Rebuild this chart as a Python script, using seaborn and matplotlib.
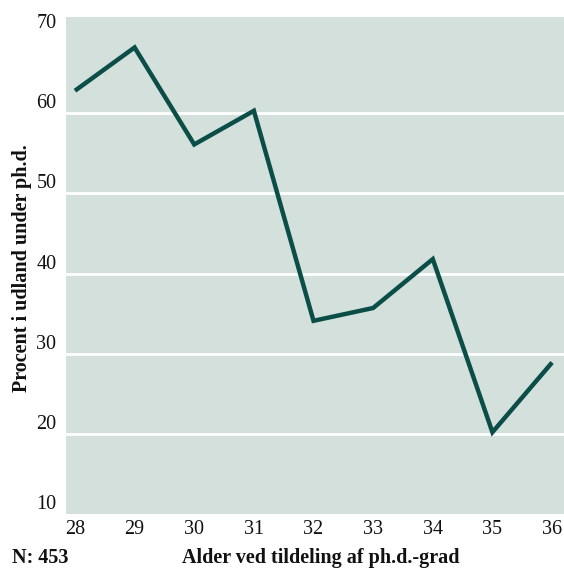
import seaborn as sns
import matplotlib.pyplot as plt
import pandas as pd

# data
ages = [28, 29, 30, 31, 32, 33, 34, 35, 36]
pct_abroad = [62.8, 68.2, 56.1, 60.3, 34.1, 35.7, 41.8, 20.2, 28.9]
yticks = [10, 20, 30, 40, 50, 60, 70]

df = pd.DataFrame({'alder': ages, 'procent': pct_abroad})

sns.set_style("white")
plt.rcParams['font.family'] = ['Liberation Serif', 'DejaVu Serif']

fig = plt.figure(figsize=(5.64, 5.70), dpi=100)
ax = fig.add_axes([66 / 564, 56 / 570, 498 / 564, 497 / 570])
ax.set_facecolor('#d4e0dc')

for y in yticks[1:-1]:
    ax.axhline(y, color='white', lw=2, zorder=1)

sns.lineplot(x='alder', y='procent', data=df, ax=ax, color='#0b4e48',
             lw=3.2, zorder=3, solid_joinstyle='miter', solid_capstyle='butt')

ax.set_xlim(27.85, 36.2)
ax.set_ylim(10, 72)
ax.set_xticks(ages)
ax.set_yticks(yticks)
ax.tick_params(axis='both', length=0, labelsize=14.5, colors='#111111')
ax.tick_params(axis='x', pad=4)
ax.tick_params(axis='y', pad=7)
for lab in ax.get_yticklabels():
    lab.set_verticalalignment('bottom')
ax.grid(False)
for s in ax.spines.values():
    s.set_visible(False)
ax.set_xlabel('')
ax.set_ylabel('')

fig.text(22 / 564, 1 - 268 / 570, 'Procent i udland under ph.d.', rotation=90,
         ha='center', va='center', fontsize=14.5, fontweight='bold', color='#111111')
fig.text(321 / 564, 1 - 558 / 570, 'Alder ved tildeling af ph.d.-grad',
         ha='center', va='center', fontsize=14.5, fontweight='bold', color='#111111')
fig.text(12 / 564, 1 - 558 / 570, 'N: 453', ha='left', va='center',
         fontsize=14.5, fontweight='bold', color='#111111')

fig.savefig('out.png', dpi=100)
